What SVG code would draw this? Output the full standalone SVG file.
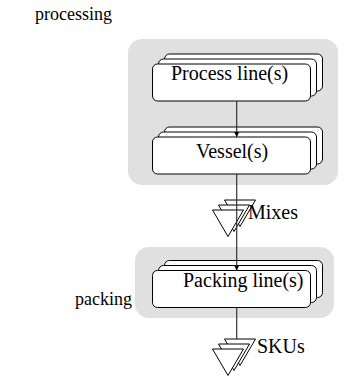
<svg xmlns="http://www.w3.org/2000/svg" width="344" height="376" viewBox="0 0 344 376">
<style>
.lbl{font-family:"Liberation Serif","Times New Roman",serif;font-size:20px;fill:#000}
.side{font-size:18px}
.grp{fill:#e0e0e0;stroke:none}
.box{fill:#fff;stroke:#000;stroke-width:1}
.tri{fill:#fff;stroke:#000;stroke-width:1;stroke-linejoin:miter}
.con{stroke:#333;stroke-width:1.2;fill:none}
</style>
<defs>
<marker id="ah" viewBox="0 0 10 10" refX="10" refY="5" markerWidth="5" markerHeight="5" orient="auto" markerUnits="userSpaceOnUse">
<path d="M0,0 L10,5 L0,10 z" fill="#000"/>
</marker>
<g id="stackbox">
<rect class="box" x="12" y="-10" width="158" height="37" rx="5"/>
<rect class="box" x="6" y="-5" width="158" height="37" rx="5"/>
<rect class="box" x="0" y="0" width="158" height="37" rx="5"/>
</g>
<g id="stacktri">
<path class="tri" d="M12,-10 L43,-10 L27.5,16.5 Z"/>
<path class="tri" d="M6,-5 L37,-5 L21.5,21.5 Z"/>
<path class="tri" d="M0,0 L31,0 L15.5,26.5 Z"/>
</g>
</defs>
<g id="processing">
<rect class="grp" x="128" y="39" width="210" height="146" rx="14"/>
<text class="lbl side" x="35" y="20">processing</text>
</g>
<g id="packing">
<rect class="grp" x="135" y="247" width="199" height="71" rx="14"/>
<text class="lbl side" x="75" y="305">packing</text>
</g>
<g id="process-line">
<use href="#stackbox" x="152.5" y="64"/>
<text class="lbl" x="171" y="80">Process line(s)</text>
</g>
<g id="vessel">
<use href="#stackbox" x="152.5" y="137"/>
<text class="lbl" x="196" y="158">Vessel(s)</text>
</g>
<g id="mixes">
<use href="#stacktri" x="212.5" y="210"/>
<text class="lbl" x="248" y="219">Mixes</text>
</g>
<g id="packing-line">
<use href="#stackbox" x="152.5" y="270.5"/>
<text class="lbl" x="183" y="287">Packing line(s)</text>
</g>
<g id="skus">
<use href="#stacktri" x="212.5" y="349"/>
<text class="lbl" x="257" y="353">SKUs</text>
</g>
<g id="connectors">
<line class="con" x1="236.7" y1="101" x2="236.7" y2="137" marker-end="url(#ah)"/>
<line class="con" x1="236.7" y1="174" x2="236.7" y2="200"/>
<line class="con" x1="236.7" y1="200" x2="236.7" y2="270.5" marker-end="url(#ah)"/>
<line class="con" x1="236.7" y1="307.5" x2="236.7" y2="339"/>
</g>
</svg>
